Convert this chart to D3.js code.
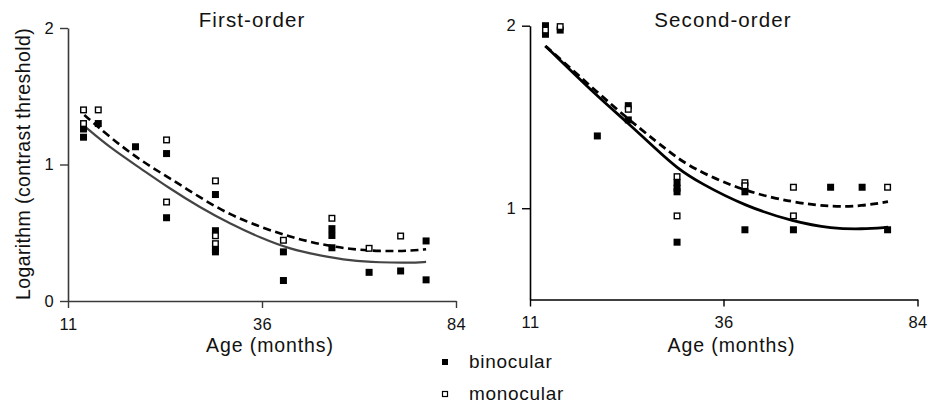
<!DOCTYPE html>
<html>
<head>
<meta charset="utf-8">
<script src="https://cdn.jsdelivr.net/npm/d3@7"></script>
<style>
  html, body { margin: 0; padding: 0; background: #fff; }
  svg text { font-family: "Liberation Sans", Arial, sans-serif; fill: #111; }
</style>
</head>
<body>
<svg id="chart" width="928" height="404"></svg>
<script>
// Age (months) at which each group was tested
const ages = [13, 14.9, 19.7, 23.7, 30, 41.3, 53.3, 62.5, 70.3, 76.6];
const xTicks = [11, 36, 84];

// First-order stimuli: log contrast thresholds per age group
const firstBinocular = [[1.26, 1.20], [1.30], [1.13], [1.08, 0.61], [0.78, 0.515, 0.38, 0.36],
                        [0.36, 0.15], [0.53, 0.48, 0.39], [0.21], [0.22], [0.44, 0.155]];
const firstMonocular = [[1.40, 1.30], [1.40], [], [1.18, 0.725], [0.88, 0.478, 0.42],
                        [0.445], [0.606], [0.386], [0.476], []];
const firstTicks = [0, 1, 2];

// Second-order stimuli
const secondBinocular = [[2.0, 1.953], [1.976], [1.396], [1.562, 1.484], [1.14, 1.11, 1.09, 0.814],
                         [1.09, 0.882], [0.882], [1.115], [1.115], [0.882]];
const secondMonocular = [[1.976], [1.995], [], [1.542], [1.173, 0.958],
                         [1.14, 1.123], [1.115, 0.958], [], [], [1.115]];
const secondTicks = [1, 2];

// Fitted trends (age, log threshold)
const firstFitAges = [13.1, 16.4, 20.3, 24.1, 28, 31.9, 36, 42.9, 50.4, 57.8, 65.2, 72.6, 76.6];
const firstFitBinocular = [1.282, 1.124, 0.974, 0.824, 0.686, 0.566, 0.458, 0.381, 0.333, 0.296, 0.282, 0.279, 0.286];
const firstFitMonocular = [1.363, 1.200, 1.030, 0.901, 0.758, 0.630, 0.538, 0.470, 0.415, 0.379, 0.364, 0.367, 0.379];

const secondFitAges = [12.98, 14.88, 19.66, 23.66, 27.41, 29.99, 32.96, 41.32, 53.44, 62.84, 70.26, 76.7];
const secondFitBinocular = [1.889, 1.812, 1.615, 1.467, 1.319, 1.220, 1.138, 1.012, 0.925, 0.889, 0.885, 0.896];
const secondFitMonocular = [1.889, 1.818, 1.637, 1.489, 1.363, 1.275, 1.198, 1.092, 1.031, 1.007, 1.012, 1.036];

const legendLabels = ["binocular", "monocular"];

const svg = d3.select("#chart");

function flatten(groups) {
  const out = [];
  groups.forEach((vals, i) => vals.forEach(v => out.push([ages[i], v])));
  return out;
}

function drawPanel(p) {
  const g = svg.append("g");
  const x = d3.scaleLinear().domain(xTicks).range(p.xRange);
  const y = d3.scaleLinear().domain(p.yDomain).range(p.yRange);

  const xAxis = g.append("g")
    .attr("transform", `translate(0,${p.yRange[0]})`)
    .call(d3.axisBottom(x).tickValues(xTicks).tickFormat(d3.format("d"))
      .tickSize(7).tickPadding(10).tickSizeOuter(0));
  const yAxis = g.append("g")
    .attr("transform", `translate(${p.xRange[0]},0)`)
    .call(d3.axisLeft(y).tickValues(p.yTicks).tickFormat(d3.format("d"))
      .tickSize(8).tickPadding(6).tickSizeOuter(0));
  [xAxis, yAxis].forEach(a => {
    a.select(".domain").attr("stroke", p.axisColor).attr("stroke-width", 1.6);
    a.selectAll(".tick line").attr("stroke", p.axisColor).attr("stroke-width", 1.4);
    a.selectAll(".tick text").attr("font-size", 16.5).attr("fill", "#111")
      .style("font-family", '"Liberation Sans", Arial, sans-serif')
      .style("letter-spacing", "0.4px");
  });

  const line = d3.line().x(d => x(d[0])).y(d => y(d[1])).curve(d3.curveBasis);
  g.append("path")
    .datum(p.fitAges.map((a, i) => [a, p.fitBin[i]]))
    .attr("d", line).attr("fill", "none")
    .attr("stroke", p.solidColor).attr("stroke-width", p.solidWidth);
  g.append("path")
    .datum(p.fitAges.map((a, i) => [a, p.fitMon[i]]))
    .attr("d", line).attr("fill", "none")
    .attr("stroke", "#000").attr("stroke-width", p.dashWidth)
    .attr("stroke-dasharray", "8,4.5");

  const s = 7;
  g.selectAll(".bin").data(flatten(p.bin)).join("rect")
    .attr("x", d => x(d[0]) - s / 2).attr("y", d => y(d[1]) - s / 2)
    .attr("width", s).attr("height", s).attr("fill", "#000");
  g.selectAll(".mon").data(flatten(p.mon)).join("rect")
    .attr("x", d => x(d[0]) - (s - 1.4) / 2).attr("y", d => y(d[1]) - (s - 1.4) / 2)
    .attr("width", s - 1.4).attr("height", s - 1.4)
    .attr("fill", "#fff").attr("stroke", "#000").attr("stroke-width", 1.4);

  g.append("text").attr("x", p.titleX).attr("y", 27)
    .attr("text-anchor", "middle").attr("font-size", 20.5)
    .style("letter-spacing", "1.1px").text(p.title);
  g.append("text").attr("x", x(36) + 8).attr("y", 352)
    .attr("text-anchor", "middle").attr("font-size", 19.5)
    .style("letter-spacing", "0.9px").text("Age (months)");
}

drawPanel({
  title: "First-order", titleX: 252, xRange: [68, 262, 456], yDomain: [0, 2], yRange: [301, 28],
  yTicks: firstTicks, axisColor: "#3a3a3a",
  bin: firstBinocular, mon: firstMonocular,
  fitAges: firstFitAges, fitBin: firstFitBinocular, fitMon: firstFitMonocular,
  solidColor: "#444", solidWidth: 2.2, dashWidth: 2.6
});
drawPanel({
  title: "Second-order", titleX: 723, xRange: [530, 723.5, 917.5], yDomain: [0.5, 2], yRange: [299.5, 25.7],
  yTicks: secondTicks, axisColor: "#000",
  bin: secondBinocular, mon: secondMonocular,
  fitAges: secondFitAges, fitBin: secondFitBinocular, fitMon: secondFitMonocular,
  solidColor: "#000", solidWidth: 2.8, dashWidth: 2.8
});

// Shared y-axis title
svg.append("text")
  .attr("transform", "translate(30,164) rotate(-90)")
  .attr("text-anchor", "middle").attr("font-size", 19.5)
  .style("letter-spacing", "0.4px")
  .text("Logarithm (contrast threshold)");

// Legend
const legend = svg.append("g");
legendLabels.forEach((label, i) => {
  const cy = 362 + i * 32;
  const r = legend.append("rect").attr("x", 442).attr("y", cy - 3).attr("width", 6).attr("height", 6);
  if (i === 0) r.attr("fill", "#000");
  else r.attr("fill", "#fff").attr("stroke", "#000").attr("stroke-width", 1.2)
        .attr("x", 442.5).attr("y", cy - 2.5).attr("width", 5).attr("height", 5);
  legend.append("text").attr("x", 469).attr("y", cy + 6).attr("font-size", 19)
    .style("letter-spacing", "0.7px").text(label);
});
</script>
</body>
</html>
